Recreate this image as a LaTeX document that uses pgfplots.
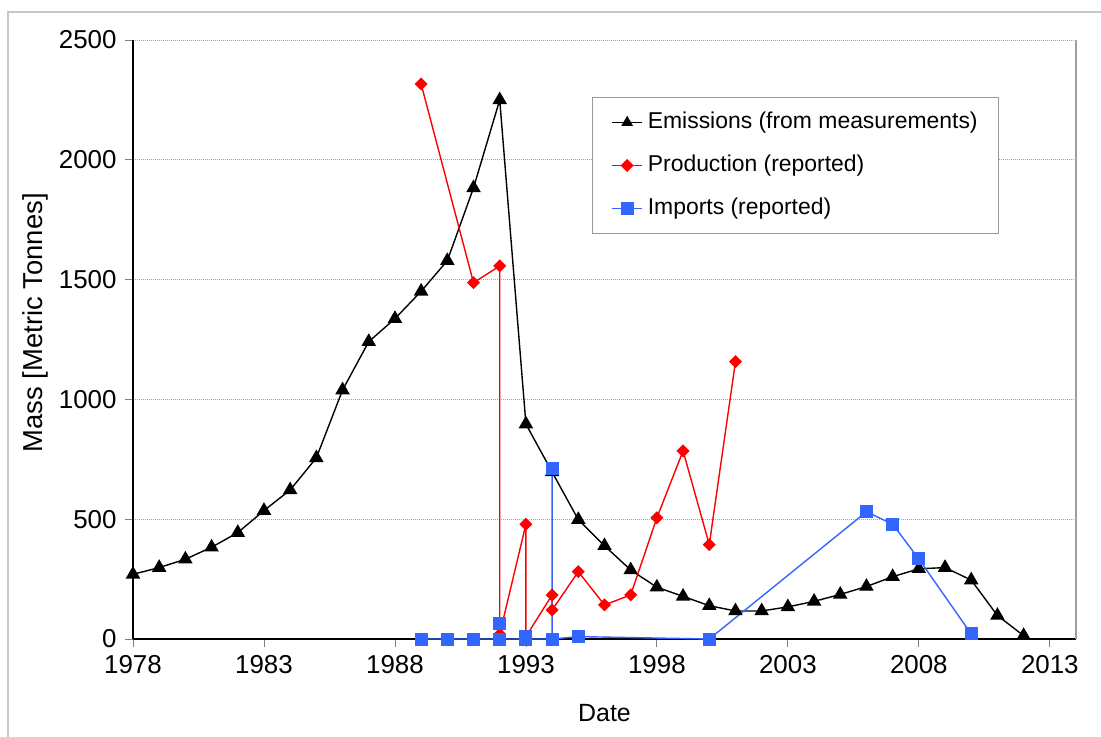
\documentclass[border=0pt]{standalone}
\usepackage{pgfplots}
\pgfplotsset{compat=1.18}
\usepackage{fontspec}
\setmainfont{Liberation Sans}
\definecolor{impblue}{RGB}{51,102,255}
\definecolor{prodred}{RGB}{255,0,0}
\pgfplotsset{
 stdlegend/.style={legend image code/.code={\draw[mark repeat=2,mark phase=2,##1] plot coordinates {(0bp,0bp) (15bp,0bp) (30bp,0bp)};}},
 trilegend/.style={legend image code/.code={\draw[mark repeat=2,mark phase=2,##1,mark size=5.4bp] plot coordinates {(0bp,0bp) (15bp,0bp) (30bp,0bp)};}},
}
\begin{document}
\begin{tikzpicture}
\begin{axis}[
 at={(0,0)}, anchor=south west,
 scale only axis, width=943bp, height=599bp,
 xmin=1978, xmax=2014, ymin=0, ymax=2500,
 xtick={1978,1983,...,2013}, ytick={0,500,...,2500},
 axis lines=left, axis line style={-, black, line width=1.1bp},
 tick align=outside, major tick length=8bp, tick style={gray, line width=0.8bp},
 ymajorgrids, grid style={gray!70, line width=0.8bp, dash pattern=on 1bp off 1bp},
 /pgf/number format/assume math mode=true,
 /pgf/number format/1000 sep={},
 tick label style={font=\fontsize{26}{30}\selectfont},
 xticklabel style={yshift=-5bp},
 yticklabel style={xshift=-5bp},
 xlabel={Date}, ylabel={Mass [Metric Tonnes]},
 xlabel style={at={(axis description cs:0.5,-0.1235)}, anchor=center, font=\fontsize{25}{28}\selectfont},
 ylabel style={at={(axis description cs:-0.1039,0.528)}, anchor=center, font=\fontsize{27.5}{30}\selectfont},
 clip=false,
 legend cell align=left,
 legend style={at={(axis description cs:0.4867,0.9048)}, anchor=north west,
   draw=gray!80, line width=1bp, fill=white, inner xsep=19bp, inner ysep=12bp,
   row sep=17bp, column sep=3bp, font=\fontsize{23}{27}\selectfont,
   nodes={text height=17bp, text depth=5bp, inner sep=2bp}},
 stdlegend,
]
\addplot[black, line width=1.4bp, mark=triangle*, mark size=7bp, mark options={solid, fill=black}, trilegend]
coordinates {
(1978,270) (1979,298) (1980,333) (1981,383) (1982,444) (1983,536) (1984,622) (1985,756)
(1986,1039) (1987,1241) (1988,1337) (1989,1451) (1990,1579) (1991,1883) (1992,2250)
(1993,897) (1994,697) (1995,498) (1996,389) (1997,288) (1998,216) (1999,178) (2000,139)
(2001,117) (2002,117) (2003,134) (2004,157) (2005,186) (2006,219) (2007,260) (2008,293)
(2009,298) (2010,246) (2011,98) (2012,14)
};
\addlegendentry{Emissions (from measurements)}
\addplot[prodred, line width=1.4bp, mark=square*, mark size=3.9bp, mark options={solid, rotate=45, fill=prodred}]
coordinates {
(1989,2316) (1991,1487) (1992,1557) (1992,20) (1993,479) (1993,10) (1994,184) (1994,121)
(1995,281) (1996,142) (1997,184) (1998,506) (1999,785) (2000,394) (2001,1158)
};
\addlegendentry{Production (reported)}
\addplot[impblue, line width=1.4bp, mark=square*, mark size=5.8bp, mark options={solid, fill=impblue}]
coordinates {
(1989,0) (1990,0) (1991,0) (1992,0) (1992,65) (1992,0) (1993,0) (1993,12) (1993,0)
(1994,0) (1994,710) (1994,0) (1995,10) (2000,0) (2006,531) (2007,479) (2008,334) (2010,21)
};
\addlegendentry{Imports (reported)}
\draw[gray!75, line width=1.3bp] (rel axis cs:1,0) -- (rel axis cs:1,1);
\end{axis}
\draw[gray!45, line width=1.2bp] (-125bp,-110bp) -- (-125bp,627bp) -- (990bp,627bp);
\pgfresetboundingbox
\useasboundingbox (-133bp,-98bp) rectangle (968bp,639bp);
\end{tikzpicture}
\end{document}
